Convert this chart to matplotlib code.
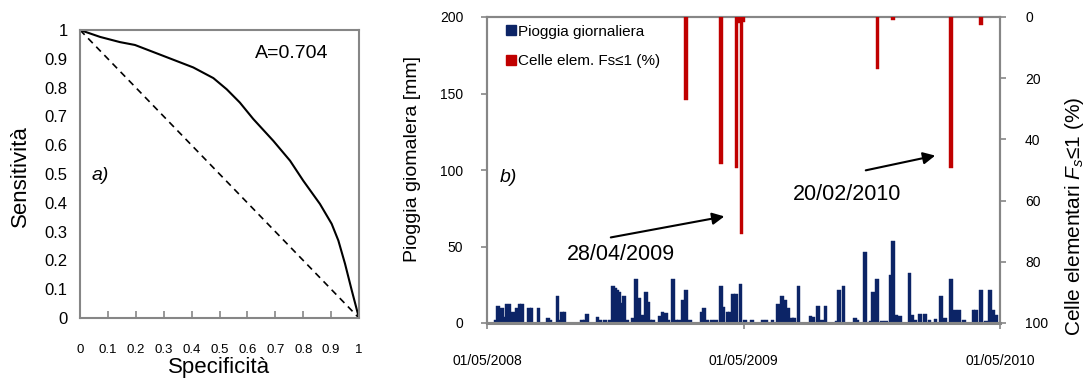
import datetime as dt
import numpy as np
import matplotlib
matplotlib.use("Agg")
import matplotlib.pyplot as plt
import matplotlib.dates as mdates
from matplotlib.lines import Line2D

plt.rcParams["font.family"] = ["Liberation Sans", "DejaVu Sans"]
plt.rcParams["mathtext.fontset"] = "custom"
plt.rcParams["mathtext.rm"] = "Liberation Sans"
plt.rcParams["mathtext.it"] = "Liberation Sans:italic"

# --- a) curva ROC ---
spec = [0, 0.072, 0.143, 0.197, 0.299, 0.406, 0.478, 0.526, 0.573, 0.621,
        0.693, 0.753, 0.800, 0.860, 0.902, 0.926, 0.950, 0.974, 1.0]
sens = [1.0, 0.976, 0.958, 0.948, 0.910, 0.870, 0.833, 0.794, 0.748, 0.691,
        0.615, 0.546, 0.477, 0.396, 0.327, 0.269, 0.188, 0.096, 0.0]
auc_text = "A=0.704"
roc_ticks = [0, 0.1, 0.2, 0.3, 0.4, 0.5, 0.6, 0.7, 0.8, 0.9, 1]
roc_ticklabels = ["0", "0.1", "0.2", "0.3", "0.4", "0.5", "0.6", "0.7", "0.8", "0.9", "1"]

# --- b) pioggia giornaliera (giorni dal 01/05/2008) ---
start = dt.date(2008, 5, 1)
rain_day = [13, 16, 21, 24, 28, 32, 37, 40, 43, 46, 50, 60, 63, 73, 87, 90, 100, 104,
            107, 110, 135, 139, 142, 157, 161, 168, 175, 179, 182, 185, 188, 192, 195,
            199, 208, 212, 216, 222, 226, 229, 232, 236, 246, 250, 255, 258, 265, 270,
            273, 279, 283, 289, 306, 309, 313, 320, 326, 333, 336, 342, 346, 350, 354,
            361, 367, 377, 393, 398, 406, 414, 420, 424, 428, 434, 437, 443, 460, 464,
            471, 477, 482, 498, 501, 507, 524, 527, 538, 546, 549, 555, 562, 568, 575,
            578, 583, 588, 601, 605, 609, 616, 623, 630, 638, 646, 652, 660, 666, 672,
            679, 692, 696, 703, 710, 716, 720, 724]
rain_mm = [2, 11, 10, 4, 12.6, 12.6, 7.4, 6, 9.5, 12.6, 12.6, 10, 10, 10, 3.5, 2, 17.8, 2,
           7.4, 7.4, 2, 2, 6, 3.7, 2, 2, 2, 24.3, 23, 21.7, 20, 13, 17.8,
           2, 3, 29, 16.3, 5.4, 20.4, 13.5, 2, 2, 4.3, 7.4, 6.5, 2, 29, 2,
           2, 15.2, 21.3, 2, 7, 10, 2, 2, 2, 24.3, 10.4, 7.4, 7.4, 19, 19,
           25.6, 2, 2, 2, 2, 2, 12.6, 17.4, 15.2, 9.8, 3.3, 3.3, 24, 4.8, 3.7,
           11.3, 2, 11.3, 1.5, 21.3, 24, 3.3, 2, 46.7, 1.5, 20, 28.7, 1, 1, 31.5,
           53.3, 5, 4.5, 33, 5, 2, 6, 6, 2, 2.5, 17.8, 3, 29, 8.7, 8.3,
           2, 8.7, 8.7, 21.7, 1.5, 21.7, 8.7, 5.4]

# celle elementari con Fs<=1 (%)
celle_day = [283, 333, 355, 358, 362, 365, 556, 578, 660, 703]
celle_pct = [27, 48, 49.5, 2, 71, 1.5, 17, 1, 49.5, 2.7]

date_ticks = [dt.date(2008, 5, 1), dt.date(2009, 5, 1), dt.date(2010, 5, 1)]

rain_dates = [start + dt.timedelta(days=d) for d in rain_day]
celle_dates = [start + dt.timedelta(days=d) for d in celle_day]

grey = "#868686"
blue = "#0c2466"
red = "#c00000"

fig = plt.figure(figsize=(10.92, 3.78), dpi=100)

# ---------------- pannello a ----------------
ax1 = fig.add_axes([80 / 1092, 60 / 378, 279 / 1092, 288 / 378])
ax1.plot(spec, sens, color="black", lw=1.5)
ax1.plot([0, 1], [1, 0], color="black", lw=1.2, ls=(0, (4, 3)))
ax1.set_xlim(0, 1)
ax1.set_ylim(0, 1)
ax1.set_xticks(roc_ticks)
ax1.set_xticklabels(roc_ticklabels, fontsize=9.5)
ax1.set_yticks(roc_ticks)
ax1.set_yticklabels(roc_ticklabels, fontsize=12)
ax1.tick_params(axis="x", direction="in", length=5, width=1.2, color=grey, pad=19)
ax1.tick_params(axis="y", length=0, pad=9)
for s in ax1.spines.values():
    s.set_color(grey)
    s.set_linewidth(1.5)
ax1.set_xlabel("Specificità", fontsize=16, va="center")
ax1.xaxis.set_label_coords(0.5, -0.172)
ax1.set_ylabel("Sensitività", fontsize=16, va="center")
ax1.yaxis.set_label_coords(-0.215, 0.494)
ax1.text(0.76, 0.917, auc_text, fontsize=14, ha="center", va="center", transform=ax1.transAxes)
ax1.text(0.043, 0.494, "a)", fontsize=14, style="italic", ha="left", va="center",
         transform=ax1.transAxes)

# ---------------- pannello b ----------------
ax2 = fig.add_axes([487 / 1092, 55 / 378, 513 / 1092, 306 / 378])
ax2.bar(rain_dates, rain_mm, width=5, color=blue, edgecolor=blue, linewidth=0.3, zorder=2)
ax2.set_ylim(0, 200)
ax2.set_yticks([0, 50, 100, 150, 200])
ax2.set_xlim(date_ticks[0], date_ticks[-1])
ax2.set_xticks(date_ticks)
ax2.xaxis.set_major_formatter(mdates.DateFormatter("%d/%m/%Y"))
ax2.tick_params(axis="x", direction="out", length=4, width=1.2, color=grey, pad=18, labelsize=10)
ax2.tick_params(axis="y", direction="out", length=4, width=1.2, color=grey, pad=13, labelsize=10)
for s in ax2.spines.values():
    s.set_color(grey)
    s.set_linewidth(1.5)
ax2.spines["bottom"].set_linewidth(2.2)
ax2.set_ylabel("Pioggia giomalera [mm]", fontsize=14, va="center")
ax2.yaxis.set_label_coords(-0.146, 0.536)

ax3 = ax2.twinx()
ax3.bar(celle_dates, celle_pct, width=5, color=red, edgecolor=red, linewidth=0.3, zorder=3)
ax3.set_ylim(100, 0)
ax3.set_yticks([0, 20, 40, 60, 80, 100])
ax3.tick_params(axis="y", direction="out", length=4, width=1.2, color=grey, pad=14, labelsize=10)
for s in ax3.spines.values():
    s.set_color(grey)
    s.set_linewidth(1.5)
ax3.set_ylabel(r"Celle elementari $F_s$≤1 (%)", fontsize=15, va="center", rotation=90)
ax3.yaxis.set_label_coords(1.146, 0.35)

handles = [Line2D([], [], marker="s", ls="none", color=blue, markersize=7),
           Line2D([], [], marker="s", ls="none", color=red, markersize=7)]
ax3.legend(handles, ["Pioggia giornaliera", "Celle elem. Fs≤1 (%)"], loc="upper left",
           bbox_to_anchor=(0.025, 0.995), frameon=False, fontsize=11,
           handlelength=0.6, handletextpad=0.2, labelspacing=1.0, borderaxespad=0)

ax3.text(0.025, 0.474, "b)", fontsize=14, style="italic", ha="left", va="center",
         transform=ax3.transAxes)
ax3.text(0.261, 0.223, "28/04/2009", fontsize=15.5, ha="center", va="center",
         transform=ax3.transAxes)
ax3.annotate("", xy=(0.468, 0.350), xytext=(0.236, 0.278), xycoords="axes fraction",
             textcoords="axes fraction",
             arrowprops=dict(arrowstyle="-|>", color="black", lw=1.5, mutation_scale=18))
ax3.text(0.702, 0.421, "20/02/2010", fontsize=15.5, ha="center", va="center",
         transform=ax3.transAxes)
ax3.annotate("", xy=(0.879, 0.549), xytext=(0.733, 0.497), xycoords="axes fraction",
             textcoords="axes fraction",
             arrowprops=dict(arrowstyle="-|>", color="black", lw=1.5, mutation_scale=18))

fig.savefig("out.png", dpi=100)
